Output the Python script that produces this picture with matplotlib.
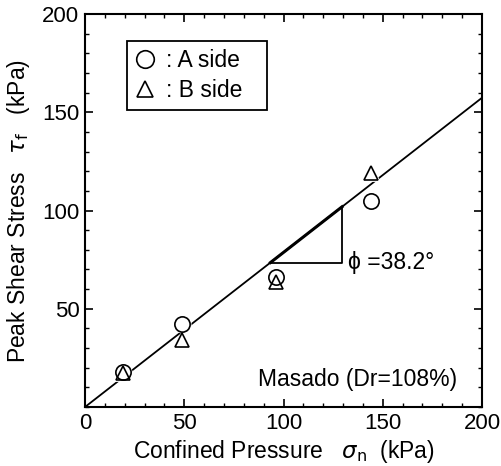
import numpy as np
import matplotlib
matplotlib.use("Agg")
import matplotlib.pyplot as plt
from matplotlib.ticker import MultipleLocator

plt.rcParams['font.family'] = ['Liberation Sans', 'DejaVu Sans']
plt.rcParams['mathtext.fontset'] = 'dejavusans'

# data
sigma_a = [19, 49, 96, 144]
tau_a = [18, 42, 66, 105]
sigma_b = [19, 49, 96, 144]
tau_b = [17.5, 34, 63.5, 119]
PHI_DEG = 38.2
# slope triangle drawn under the fitted line
TRI_Y = 73.5
TRI_X = 129.5

FS = 16.5

fig = plt.figure(figsize=(5.01, 4.66), dpi=100)
ax = fig.add_axes([0.1697, 0.1266, 0.7924, 0.8433])

slope = np.tan(np.radians(PHI_DEG))
xs = np.array([0, 200])
ax.plot(xs, slope * xs, color='black', lw=1.3, zorder=2)

# thicker hypotenuse and the triangle
x0 = TRI_Y / slope
ax.plot([x0, TRI_X], [TRI_Y, slope * TRI_X], color='black', lw=2.2, zorder=2)
ax.plot([x0, TRI_X, TRI_X], [TRI_Y, TRI_Y, slope * TRI_X], color='black', lw=1.3, zorder=2)

# white patches under the markers break the line like in the original
ax.plot(sigma_a, tau_a, ls='none', marker='o', ms=11, mfc='white', mec='white', mew=2, zorder=3)
ax.plot(sigma_b, tau_b, ls='none', marker='^', ms=10.5, mfc='white', mec='white', mew=2, zorder=3)
ax.plot(sigma_a, tau_a, ls='none', marker='o', ms=11, mfc='none', mec='black',
        mew=1.2, zorder=4, label=': A side')
ax.plot(sigma_b, tau_b, ls='none', marker='^', ms=10.5, mfc='none', mec='black',
        mew=1.2, zorder=4, label=': B side')

leg = ax.legend(loc='upper left', bbox_to_anchor=(0.106, 0.743, 0.352, 0.188), mode='expand',
                fontsize=FS, frameon=True, fancybox=False, edgecolor='black', framealpha=1,
                handlelength=0.9, handletextpad=0.45, borderpad=0.35, labelspacing=0.3,
                borderaxespad=0, markerscale=1.15)
leg.get_frame().set_linewidth(1.3)
leg.get_frame().set_facecolor('none')

ax.text(TRI_X + 3, TRI_Y, "\u03d5 =38.2\u00b0", fontsize=FS, va='center', ha='left')
ax.text(187.5, 13.8, "Masado (Dr=108%)", fontsize=FS, va='center', ha='right')

ax.set_xlim(0, 200)
ax.set_ylim(0, 200)
ax.xaxis.set_major_locator(MultipleLocator(50))
ax.xaxis.set_minor_locator(MultipleLocator(10))
ax.yaxis.set_minor_locator(MultipleLocator(10))
ax.set_yticks([50, 100, 150, 200])
ax.tick_params(which='both', direction='in', top=True, right=True, labelsize=16)
ax.tick_params(which='major', length=6, width=1.2, pad=4)
ax.tick_params(which='minor', length=3, width=1.0)
for s in ax.spines.values():
    s.set_linewidth(1.5)

ax.set_xlabel(r"Confined Pressure   $\sigma_{\rm n}$  (kPa)", fontsize=FS, labelpad=3)
ax.set_ylabel(r"Peak Shear Stress   $\tau_{\rm f}$   (kPa)", fontsize=FS, labelpad=7)

fig.savefig("out.png", dpi=100)
